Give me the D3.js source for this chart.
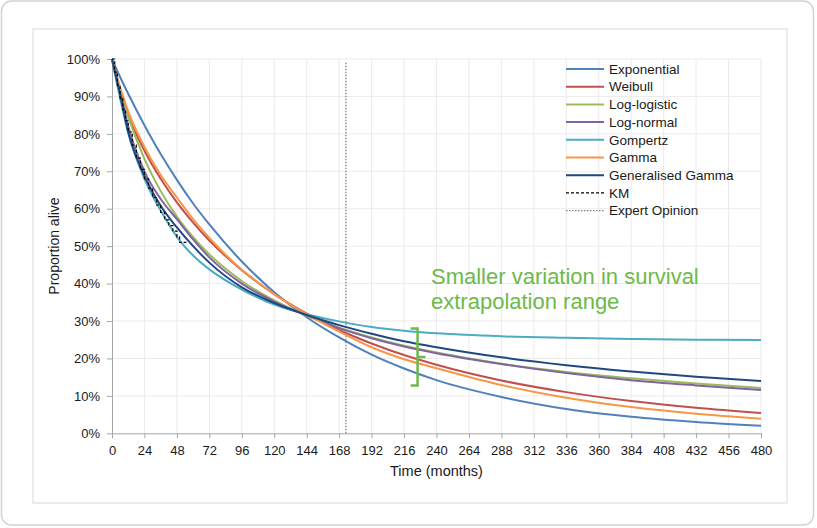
<html>
<head>
  <title>Survival extrapolation</title>
  <script src='https://d3js.org/d3.v7.min.js'></script>
  <style type="text/css">
    body { margin: 0; background: #fff; }
    text { font-family: "Liberation Sans", Arial, sans-serif; fill: #1a1a1a; }
    .grid line { stroke: #ebebeb; stroke-width: 1; }
    .axis path, .axis line { stroke: #a6a6a6; }
    .axis text { font-size: 13px; }
    .curve { fill: none; stroke-width: 2; }
    .note { font-size: 22px; fill: #6db94a; }
  </style>
</head>
<body>
<script>
// time points (months) the fitted curves were read at
var months = [0, 6, 12, 24, 36, 48, 60, 72, 96, 120, 144, 168, 192, 216, 240, 288, 336, 384, 432, 480];

// proportion alive (%) per model
var exponential = [100, 95.2, 90.7, 82.3, 74.6, 67.7, 61.4, 55.8, 45.9, 37.7, 31.0, 25.6, 21.0, 17.3, 14.2, 9.7, 6.5, 4.4, 3.0, 2.0];
var weibull     = [100, 90.9, 84.9, 75.5, 68.0, 61.7, 56.3, 51.5, 43.6, 37.2, 32.0, 27.6, 24.0, 20.9, 18.3, 14.1, 11.0, 8.6, 6.8, 5.4];
var logLogistic = [100, 91.7, 84.6, 73.3, 64.7, 57.9, 52.4, 47.8, 40.7, 35.5, 31.4, 28.2, 25.6, 23.4, 21.6, 18.6, 16.4, 14.7, 13.3, 12.1];
var logNormal   = [100, 91.5, 82.0, 70.0, 62.6, 57.2, 51.8, 47.0, 40.0, 35.2, 31.5, 28.1, 25.4, 23.2, 21.4, 18.5, 16.1, 14.2, 12.8, 11.6];
var gompertz    = [100, 89.5, 80.2, 68.0, 59.5, 52.5, 47.5, 43.8, 38.4, 34.4, 31.8, 29.9, 28.4, 27.4, 26.7, 25.9, 25.5, 25.2, 25.0, 24.9];
var gamma       = [100, 92.5, 86.0, 76.5, 69.0, 63.0, 57.2, 52.2, 43.7, 37.2, 31.8, 27.2, 23.0, 19.8, 17.4, 12.9, 9.5, 7.0, 5.2, 3.9];
var genGamma    = [100, 90.5, 80.5, 68.8, 60.8, 55.0, 50.0, 45.6, 39.0, 34.8, 31.6, 28.9, 26.6, 24.6, 23.0, 20.3, 18.2, 16.5, 15.1, 14.0];

// Kaplan-Meier (observed data)
var kmMonths   = [0, 2, 4, 6, 8, 10, 12, 15, 18, 21, 24, 27, 30, 33, 36, 39, 42, 45, 48, 50, 55];
var kmSurvival = [100, 96.5, 93, 89.5, 86.5, 83.5, 80.5, 77, 73.5, 70.5, 68, 65.5, 63, 61, 59, 57, 55.5, 54, 52.5, 51, 51];

var expertOpinionMonth = 173;

var seriesNames  = ["Exponential", "Weibull", "Log-logistic", "Log-normal", "Gompertz", "Gamma", "Generalised Gamma"];
var seriesValues = [exponential, weibull, logLogistic, logNormal, gompertz, gamma, genGamma];
var seriesColors = ["#4f81bd", "#c0504d", "#9bbb59", "#8064a2", "#4bacc6", "#f79646", "#1f497d"];

var xTicks = d3.range(0, 481, 24);
var yTicks = d3.range(0, 101, 10);

var noteLines = ["Smaller variation in survival", "extrapolation range"];

var width = 817,
    height = 528;

var x = d3.scaleLinear().domain([0, 480]).range([112, 761]);
var y = d3.scaleLinear().domain([0, 100]).range([433.3, 59]);

var svg = d3.select("body").append("svg")
    .attr("width", width)
    .attr("height", height);

// card + chart frame
svg.append("rect")
    .attr("x", 1.5).attr("y", 1)
    .attr("width", 812).attr("height", 524)
    .attr("rx", 10).attr("ry", 10)
    .attr("fill", "#fff")
    .attr("stroke", "#d2d2d2")
    .attr("stroke-width", 1.5);

svg.append("rect")
    .attr("x", 33).attr("y", 29)
    .attr("width", 754).attr("height", 474)
    .attr("fill", "none")
    .attr("stroke", "#d9d9d9");

// grid
var grid = svg.append("g").attr("class", "grid");
grid.selectAll(".gx")
  .data(xTicks.slice(1))
  .enter().append("line")
    .attr("x1", function(d) { return x(d); })
    .attr("x2", function(d) { return x(d); })
    .attr("y1", y(0)).attr("y2", y(100));
grid.selectAll(".gy")
  .data(yTicks.slice(1))
  .enter().append("line")
    .attr("x1", x(0)).attr("x2", x(480))
    .attr("y1", function(d) { return y(d); })
    .attr("y2", function(d) { return y(d); });

// axes
svg.append("g")
    .attr("class", "axis")
    .attr("transform", "translate(" + x(0) + ",0)")
    .call(d3.axisLeft(y).tickValues(yTicks).tickFormat(function(d) { return d + "%"; })
      .tickSize(5).tickSizeOuter(0).tickPadding(7));

svg.append("g")
    .attr("class", "axis")
    .attr("transform", "translate(0," + y(0) + ")")
    .call(d3.axisBottom(x).tickValues(xTicks).tickSize(5).tickSizeOuter(0).tickPadding(7));

svg.append("text")
    .attr("x", x(240)).attr("y", 475.5)
    .attr("text-anchor", "middle")
    .style("font-size", "14.5px")
    .text("Time (months)");

svg.append("text")
    .attr("transform", "translate(58.5," + 246 + ") rotate(-90)")
    .attr("text-anchor", "middle")
    .style("font-size", "14px")
    .text("Proportion alive");

// expert opinion marker
svg.append("line")
    .attr("x1", x(expertOpinionMonth)).attr("x2", x(expertOpinionMonth))
    .attr("y1", y(0)).attr("y2", y(99.2))
    .attr("stroke", "#7f7f7f")
    .attr("stroke-width", 1.3)
    .attr("stroke-dasharray", "1.5,1.5");

// fitted curves
var line = d3.line()
    .x(function(d) { return x(d[0]); })
    .y(function(d) { return y(d[1]); })
    .curve(d3.curveMonotoneX);

svg.append("g").selectAll(".curve")
  .data(seriesValues)
  .enter().append("path")
    .attr("class", "curve")
    .attr("stroke", function(d, i) { return seriesColors[i]; })
    .attr("d", function(d) {
      return line(months.map(function(m, j) { return [m, d[j]]; }));
    });

// KM
var kmLine = d3.line()
    .x(function(d) { return x(d[0]); })
    .y(function(d) { return y(d[1]); })
    .curve(d3.curveStepAfter);

svg.append("path")
    .attr("fill", "none")
    .attr("stroke", "#000")
    .attr("stroke-width", 1.2)
    .attr("stroke-dasharray", "3,2")
    .attr("d", kmLine(kmMonths.map(function(m, j) { return [m, kmSurvival[j]]; })));

// legend
var legendNames  = seriesNames.concat(["KM", "Expert Opinion"]);
var legendColors = seriesColors.concat(["#000", "#7f7f7f"]);
var legendDash   = seriesNames.map(function() { return null; }).concat(["3,2", "1.5,1.5"]);

var legend = svg.append("g").attr("transform", "translate(566,69)");
var item = legend.selectAll(".item")
  .data(legendNames)
  .enter().append("g")
    .attr("transform", function(d, i) { return "translate(0," + (i * 17.7) + ")"; });

item.append("line")
    .attr("x1", 0).attr("x2", 38)
    .attr("stroke", function(d, i) { return legendColors[i]; })
    .attr("stroke-width", function(d, i) { return i < 7 ? 2 : 1.2; })
    .attr("stroke-dasharray", function(d, i) { return legendDash[i]; });

item.append("text")
    .attr("x", 43).attr("dy", "0.35em")
    .style("font-size", "13.5px")
    .text(function(d) { return d; });

// annotation bracket
var bx = x(226), bTop = y(28), bBot = y(12.8), bMid = y(20.4);
svg.append("path")
    .attr("fill", "none")
    .attr("stroke", "#6db94a")
    .attr("stroke-width", 2.5)
    .attr("d", "M" + (bx - 7) + "," + bTop + "H" + bx + "V" + bBot + "H" + (bx - 7) +
               "M" + bx + "," + bMid + "H" + (bx + 8));

svg.selectAll(".note")
  .data(noteLines)
  .enter().append("text")
    .attr("class", "note")
    .attr("x", 431)
    .attr("y", function(d, i) { return 283.5 + i * 25; })
    .text(function(d) { return d; });
</script>
</body>
</html>
